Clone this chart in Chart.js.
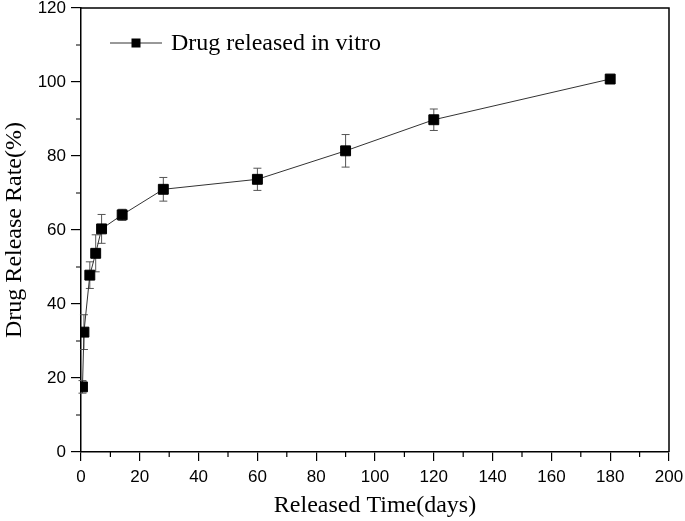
<!DOCTYPE html>
<html>
<head>
<meta charset="utf-8">
<script src="https://cdn.jsdelivr.net/npm/chart.js@4"></script>
<style>
  body { margin: 0; background: #fff; }
  #kutu { width: 685px; height: 521px; }
</style>
</head>
<body>
<div id="kutu"><canvas id="salimChart"></canvas></div>
<script>
// data
var gunler = [0.5, 1, 3, 5, 7, 14, 28, 60, 90, 120, 180];
var salimOrani = [17.6, 32.4, 47.8, 53.7, 60.3, 64.1, 71.0, 73.7, 81.4, 89.8, 100.8];
var hataPayi = [1.7, 4.7, 3.6, 5.0, 3.9, 1.5, 3.2, 3.0, 4.4, 2.9, 0];
var xTikler = [0, 20, 40, 60, 80, 100, 120, 140, 160, 180, 200];
var yTikler = [0, 20, 40, 60, 80, 100, 120];
var seriAdi = "Drug released in vitro";

var noktalar = [];
for (var i = 0; i < gunler.length; i++) {
  noktalar.push({x: gunler[i], y: salimOrani[i]});
}

/*EKSEN, HATA CUBUGU VE LEJANT CIZIMI*/
var ekCizim = {
  id: "ekCizim",
  beforeDatasetsDraw: function (chart) {
    var ctx = chart.ctx;
    var xs = chart.scales.x, ys = chart.scales.y;
    ctx.save();
    ctx.strokeStyle = "#555";
    ctx.lineWidth = 1;
    for (var i = 0; i < gunler.length; i++) {
      if (!hataPayi[i]) continue;
      var px = xs.getPixelForValue(gunler[i]);
      var ust = ys.getPixelForValue(salimOrani[i] + hataPayi[i]);
      var alt = ys.getPixelForValue(salimOrani[i] - hataPayi[i]);
      ctx.beginPath();
      ctx.moveTo(px, ust); ctx.lineTo(px, alt);
      ctx.moveTo(px - 4, ust); ctx.lineTo(px + 4, ust);
      ctx.moveTo(px - 4, alt); ctx.lineTo(px + 4, alt);
      ctx.stroke();
    }
    ctx.restore();
  },
  afterDraw: function (chart) {
    var ctx = chart.ctx;
    var a = chart.chartArea;
    var xs = chart.scales.x, ys = chart.scales.y;
    ctx.save();
    ctx.strokeStyle = "#000";
    ctx.lineWidth = 1.5;
    // top and right frame
    ctx.beginPath();
    ctx.moveTo(a.left, a.top); ctx.lineTo(a.right, a.top); ctx.lineTo(a.right, a.bottom);
    ctx.stroke();
    // minor ticks
    ctx.lineWidth = 1.2;
    ctx.beginPath();
    for (var v = 10; v < 200; v += 20) {
      var px = xs.getPixelForValue(v);
      ctx.moveTo(px, a.bottom); ctx.lineTo(px, a.bottom + 5);
    }
    for (var w = 10; w < 120; w += 20) {
      var py = ys.getPixelForValue(w);
      ctx.moveTo(a.left, py); ctx.lineTo(a.left - 5, py);
    }
    ctx.stroke();

    // legend inside the plot
    var lx = a.left + 55, ly = a.top + 35;
    ctx.strokeStyle = "#333";
    ctx.lineWidth = 1;
    ctx.beginPath();
    ctx.moveTo(a.left + 29, ly); ctx.lineTo(a.left + 81, ly);
    ctx.stroke();
    ctx.fillStyle = "#000";
    ctx.fillRect(lx - 4.5, ly - 4.5, 9, 9);
    ctx.font = "24px 'Liberation Serif'";
    ctx.textBaseline = "middle";
    ctx.textAlign = "left";
    ctx.fillText(seriAdi, a.left + 90, ly + 1);
    ctx.restore();
  }
};

var ctx = document.getElementById("salimChart");
var myChart = new Chart(ctx, {
  type: "line",
  data: {
    datasets: [{
      label: seriAdi,
      data: noktalar,
      borderColor: "#333",
      borderWidth: 1,
      pointStyle: "rect",
      pointRadius: 7,
      pointBorderWidth: 1,
      pointBackgroundColor: "#000",
      pointBorderColor: "#000",
      tension: 0
    }]
  },
  options: {
    responsive: true,
    maintainAspectRatio: false,
    animation: false,
    layout: { padding: { top: 8, right: 16, left: 0, bottom: 0 } },
    plugins: { legend: { display: false }, tooltip: { enabled: false } },
    scales: {
      x: {
        type: "linear",
        min: 0, max: 200,
        afterBuildTicks: function (s) { s.ticks = xTikler.map(function (t) { return {value: t}; }); },
        afterFit: function (s) { s.height = 69; s.paddingLeft = 0; s.paddingRight = 0; },
        grid: { drawOnChartArea: false, tickLength: 9, color: "#000", lineWidth: 1.2 },
        border: { display: true, color: "#000", width: 1.5 },
        ticks: { color: "#000", padding: 6, maxRotation: 0, font: { family: "'Liberation Sans'", size: 17 } },
        title: { display: true, text: "Released Time(days)", color: "#000", padding: { top: 0, bottom: 1 },
                 font: { family: "'Liberation Serif'", size: 24 } }
      },
      y: {
        min: 0, max: 120,
        afterBuildTicks: function (s) { s.ticks = yTikler.map(function (t) { return {value: t}; }); },
        afterFit: function (s) { s.width = 81; s.paddingTop = 0; s.paddingBottom = 0; },
        grid: { drawOnChartArea: false, tickLength: 10, color: "#000", lineWidth: 1.2 },
        border: { display: true, color: "#000", width: 1.5 },
        ticks: { color: "#000", padding: 5, font: { family: "'Liberation Sans'", size: 17 } },
        title: { display: true, text: "Drug Release Rate(%)", color: "#000", padding: { top: 0, bottom: 0 },
                 font: { family: "'Liberation Serif'", size: 24 } }
      }
    }
  },
  plugins: [ekCizim]
});
</script>
</body>
</html>
